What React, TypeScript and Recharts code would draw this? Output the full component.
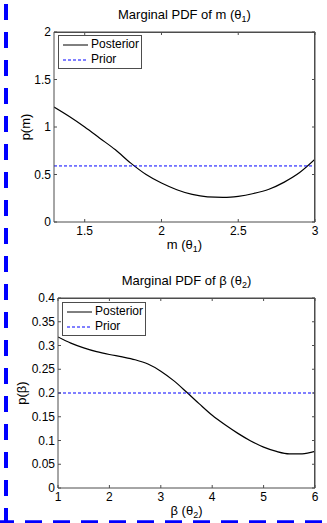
import { LineChart, Line, XAxis, YAxis, Legend } from 'recharts'

const FONT = '"Liberation Sans", Arial, sans-serif'
const AXIS = '#4d4d4d'

// marginal of m (theta 1)
const M_X = [1.3, 1.4, 1.5, 1.6, 1.7, 1.8, 1.9, 2.0, 2.1, 2.2, 2.3, 2.4, 2.45, 2.5, 2.6, 2.7, 2.8, 2.9, 3.0]
const M_POSTERIOR = [1.21, 1.11, 1.0, 0.88, 0.76, 0.62, 0.5, 0.41, 0.34, 0.29, 0.265, 0.26, 0.262, 0.27, 0.3, 0.345, 0.42, 0.52, 0.66]
const M_PRIOR = 0.59
const M_X_TICKS = [1.5, 2, 2.5, 3]
const M_Y_TICKS = [0, 0.5, 1, 1.5, 2]

// marginal of beta (theta 2)
const B_X = [1, 1.25, 1.5, 1.75, 2, 2.25, 2.5, 2.75, 3, 3.25, 3.5, 3.75, 4, 4.25, 4.5, 4.75, 5, 5.25, 5.5, 5.75, 6]
const B_POSTERIOR = [0.318, 0.305, 0.295, 0.287, 0.281, 0.276, 0.27, 0.261, 0.246, 0.226, 0.202, 0.177, 0.153, 0.133, 0.115, 0.099, 0.086, 0.077, 0.072, 0.072, 0.077]
const B_PRIOR = 0.2
const B_X_TICKS = [1, 2, 3, 4, 5, 6]
const B_Y_TICKS = [0, 0.05, 0.1, 0.15, 0.2, 0.25, 0.3, 0.35, 0.4]

const LEGEND_LABELS = ['Posterior', 'Prior']

function BottomTick({ x, y, payload }: any) {
  return (
    <g>
      <line x1={x} y1={y} x2={x} y2={y - 3} stroke={AXIS} />
      <text x={x} y={y + 13} textAnchor="middle" fontSize={12} fill="#000" fontFamily={FONT}>
        {payload.value}
      </text>
    </g>
  )
}

function TopTick({ x, y }: any) {
  return <line x1={x} y1={y} x2={x} y2={y + 3} stroke={AXIS} />
}

function LeftTick({ x, y, payload }: any) {
  return (
    <g>
      <line x1={x} y1={y} x2={x + 3} y2={y} stroke={AXIS} />
      <text x={x - 3} y={y} dy="0.35em" textAnchor="end" fontSize={12} fill="#000" fontFamily={FONT}>
        {payload.value}
      </text>
    </g>
  )
}

function RightTick({ x, y }: any) {
  return <line x1={x} y1={y} x2={x - 3} y2={y} stroke={AXIS} />
}

function Sym({ name, sub }: { name: string; sub: string }) {
  return (
    <>
      <tspan>{name} (θ</tspan>
      <tspan dy={3} fontSize={9}>{sub}</tspan>
      <tspan dy={-3}>)</tspan>
    </>
  )
}

function LegendBox() {
  return (
    <div
      style={{
        border: `1px solid ${AXIS}`,
        background: '#fff',
        padding: '1px 2px 1px 4px',
        fontFamily: FONT,
        fontSize: 12,
        lineHeight: '15px',
        whiteSpace: 'nowrap',
      }}
    >
      {LEGEND_LABELS.map((l, i) => (
        <div key={l} style={{ display: 'flex', alignItems: 'center' }}>
          <svg width={26} height={6} style={{ marginRight: 2 }}>
            <line
              x1={0}
              y1={3}
              x2={25}
              y2={3}
              stroke={i === 0 ? '#000' : '#0000ff'}
              strokeWidth={1}
              strokeDasharray={i === 0 ? undefined : '3 2'}
            />
          </svg>
          {l}
        </div>
      ))}
    </div>
  )
}

interface PanelProps {
  xs: number[]
  posterior: number[]
  prior: number
  xDomain: [number, number]
  yDomain: [number, number]
  xTicks: number[]
  yTicks: number[]
  height: number
  top: number
  plotTop: number
  plotBottom: number
  yAxisWidth: number
  yLabelOffset: number
  title: string
  xName: string
  yName: string
  sub: string
  legendPos: { left: number; top: number }
}

function Panel(p: PanelProps) {
  const data = p.xs.map((x, i) => ({ x, posterior: p.posterior[i], prior: p.prior }))
  const cx = (p.yAxisWidth + 315) / 2
  return (
    <div style={{ position: 'absolute', left: 0, top: p.top, width: 327, height: p.height }}>
      <LineChart width={327} height={p.height} data={data} margin={{ top: p.plotTop - 2, right: 10, left: 0, bottom: 0 }}>
        <XAxis
          dataKey="x"
          type="number"
          domain={p.xDomain}
          ticks={p.xTicks}
          allowDataOverflow
          height={p.height - p.plotBottom}
          tickSize={0}
          tickMargin={0}
          tick={<BottomTick />}
          axisLine={{ stroke: AXIS }}
          tickLine={false}
          label={{
            content: ({ viewBox }: any) => (
              <text x={viewBox.x + viewBox.width / 2} y={viewBox.y + 27} textAnchor="middle" fontSize={13} fontFamily={FONT} fill="#000">
                <Sym name={p.xName} sub={p.sub} />
              </text>
            ),
          }}
        />
        <XAxis
          xAxisId="top"
          dataKey="x"
          type="number"
          orientation="top"
          domain={p.xDomain}
          ticks={p.xTicks}
          allowDataOverflow
          height={2}
          tickSize={0}
          tickMargin={0}
          tick={<TopTick />}
          axisLine={{ stroke: AXIS }}
          tickLine={false}
        />
        <YAxis
          type="number"
          domain={p.yDomain}
          ticks={p.yTicks}
          allowDataOverflow
          width={p.yAxisWidth}
          tickSize={0}
          tickMargin={0}
          tick={<LeftTick />}
          axisLine={{ stroke: AXIS }}
          tickLine={false}
          label={{
            content: ({ viewBox }: any) => {
              const lx = viewBox.x + viewBox.width - p.yLabelOffset
              const ly = viewBox.y + viewBox.height / 2
              return (
                <text x={lx} y={ly} transform={`rotate(-90 ${lx} ${ly})`} textAnchor="middle" fontSize={13} fontFamily={FONT} fill="#000">
                  {p.yName}
                </text>
              )
            },
          }}
        />
        <YAxis
          yAxisId="right"
          orientation="right"
          type="number"
          domain={p.yDomain}
          ticks={p.yTicks}
          allowDataOverflow
          width={2}
          tickSize={0}
          tickMargin={0}
          tick={<RightTick />}
          axisLine={{ stroke: AXIS }}
          tickLine={false}
        />
        <Legend
          layout="vertical"
          align="center"
          verticalAlign="middle"
          wrapperStyle={{ left: p.legendPos.left, top: p.legendPos.top, width: 'auto' }}
          content={<LegendBox />}
        />
        <Line
          type="monotone"
          dataKey="posterior"
          stroke="#000"
          strokeWidth={1.2}
          dot={false}
          isAnimationActive={false}
        />
        <Line
          type="linear"
          dataKey="prior"
          xAxisId="top"
          yAxisId="right"
          stroke="#0000ff"
          strokeWidth={1}
          strokeDasharray="3 2"
          dot={false}
          isAnimationActive={false}
        />
      </LineChart>
      {/* plot frame (MATLAB box on) */}
      <div
        style={{
          position: 'absolute',
          left: p.yAxisWidth,
          top: p.plotTop,
          width: 315 - p.yAxisWidth,
          height: p.plotBottom - p.plotTop,
          borderTop: `1px solid ${AXIS}`,
          borderRight: `1px solid ${AXIS}`,
          boxSizing: 'border-box',
          pointerEvents: 'none',
        }}
      />
      <svg width={327} height={30} style={{ position: 'absolute', left: 0, top: 0, pointerEvents: 'none' }}>
        <text x={cx} y={p.plotTop - 13} textAnchor="middle" fontSize={13} fontFamily={FONT} fill="#000">
          <tspan>{p.title} </tspan>
          <Sym name={p.xName} sub={p.sub} />
        </text>
      </svg>
    </div>
  )
}

export default function App() {
  return (
    <div style={{ position: 'absolute', left: 0, top: 0, width: 327, height: 523, background: '#fff', overflow: 'hidden' }}>
      <svg width={327} height={523} style={{ position: 'absolute', left: 0, top: 0 }}>
        <line x1={6} y1={4} x2={6} y2={523} stroke="#0000ff" strokeWidth={4} strokeDasharray="16 12" />
        <line x1={-3} y1={521.7} x2={322} y2={521.7} stroke="#0000ff" strokeWidth={3} strokeDasharray="17 11" />
      </svg>
      <Panel
        xs={M_X}
        posterior={M_POSTERIOR}
        prior={M_PRIOR}
        xDomain={[1.3, 3]}
        yDomain={[0, 2]}
        xTicks={M_X_TICKS}
        yTicks={M_Y_TICKS}
        height={260}
        top={0}
        plotTop={32}
        plotBottom={222}
        yAxisWidth={54}
        yLabelOffset={24}
        title="Marginal PDF of"
        xName="m"
        yName="p(m)"
        sub="1"
        legendPos={{ left: 58, top: 35 }}
      />
      <Panel
        xs={B_X}
        posterior={B_POSTERIOR}
        prior={B_PRIOR}
        xDomain={[1, 6]}
        yDomain={[0, 0.4]}
        xTicks={B_X_TICKS}
        yTicks={B_Y_TICKS}
        height={263}
        top={260}
        plotTop={38}
        plotBottom={228}
        yAxisWidth={58}
        yLabelOffset={32}
        title="Marginal PDF of"
        xName="β"
        yName="p(β)"
        sub="2"
        legendPos={{ left: 62, top: 42 }}
      />
    </div>
  )
}
